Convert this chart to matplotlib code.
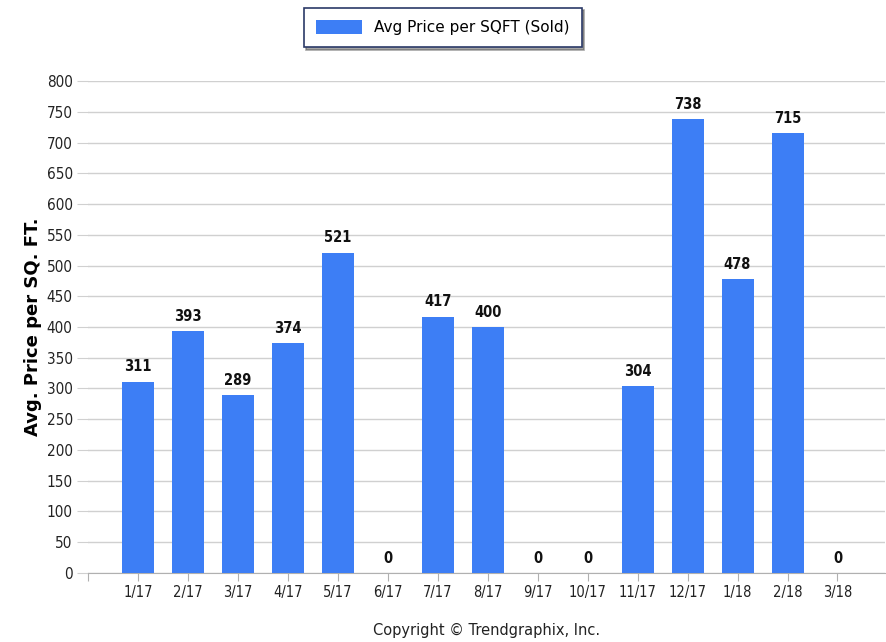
import numpy as np
import matplotlib.pyplot as plt

months = ['1/17', '2/17', '3/17', '4/17', '5/17', '6/17', '7/17', '8/17',
          '9/17', '10/17', '11/17', '12/17', '1/18', '2/18', '3/18']
price_sqft = [311, 393, 289, 374, 521, 0, 417, 400, 0, 0, 304, 738, 478, 715, 0]

bar_color = '#3d7ef5'
grid_color = '#d0d0d0'

fig = plt.figure(figsize=(8.87, 6.42), dpi=100)
ax = fig.add_axes([0.0992, 0.1075, 0.8985, 0.7663])

x = np.arange(len(months))
bars = ax.bar(x, price_sqft, width=0.64, color=bar_color, label='Avg Price per SQFT (Sold)', zorder=3)

for xi, v in zip(x, price_sqft):
    ax.text(xi, v + 12, str(v), ha='center', va='bottom', fontsize=10.5,
            fontweight='bold', fontstretch='condensed', color='#111111', zorder=4)

ax.set_xlim(-1, 14.95)
ax.set_ylim(0, 800)
ax.set_yticks(np.arange(0, 801, 50))
ax.set_xticks(np.concatenate([[-1], x]))
ax.set_xticklabels([''] + months)
ax.tick_params(axis='x', length=6, color='#b0b0b0', labelsize=10.5, pad=3, labelcolor='#222222')
ax.tick_params(axis='y', length=8, color=grid_color, labelsize=11, pad=3, labelcolor='#222222')
for lbl in ax.get_xticklabels() + ax.get_yticklabels():
    lbl.set_fontstretch('condensed')
ax.yaxis.grid(True, color=grid_color, linewidth=1, zorder=0)

for s in ['top', 'right', 'left']:
    ax.spines[s].set_visible(False)
ax.spines['bottom'].set_color('#b0b0b0')

ax.set_ylabel('Avg. Price per SQ. FT.', fontsize=13, fontweight='bold', labelpad=3)

leg = fig.legend(handles=[bars], loc='upper center', bbox_to_anchor=(0.499, 0.988),
                 borderaxespad=0, fontsize=11, frameon=True, fancybox=False, shadow=True,
                 handlelength=3.0, handleheight=1.0, borderpad=0.8, handletextpad=0.8)
leg.get_frame().set_edgecolor('#2b3a67')
leg.get_frame().set_linewidth(1.2)

fig.text(0.549, 0.006, 'Copyright \u00a9 Trendgraphix, Inc.', ha='center', va='bottom',
         fontsize=10.5, color='#222222')

fig.savefig('out.png', dpi=100)
